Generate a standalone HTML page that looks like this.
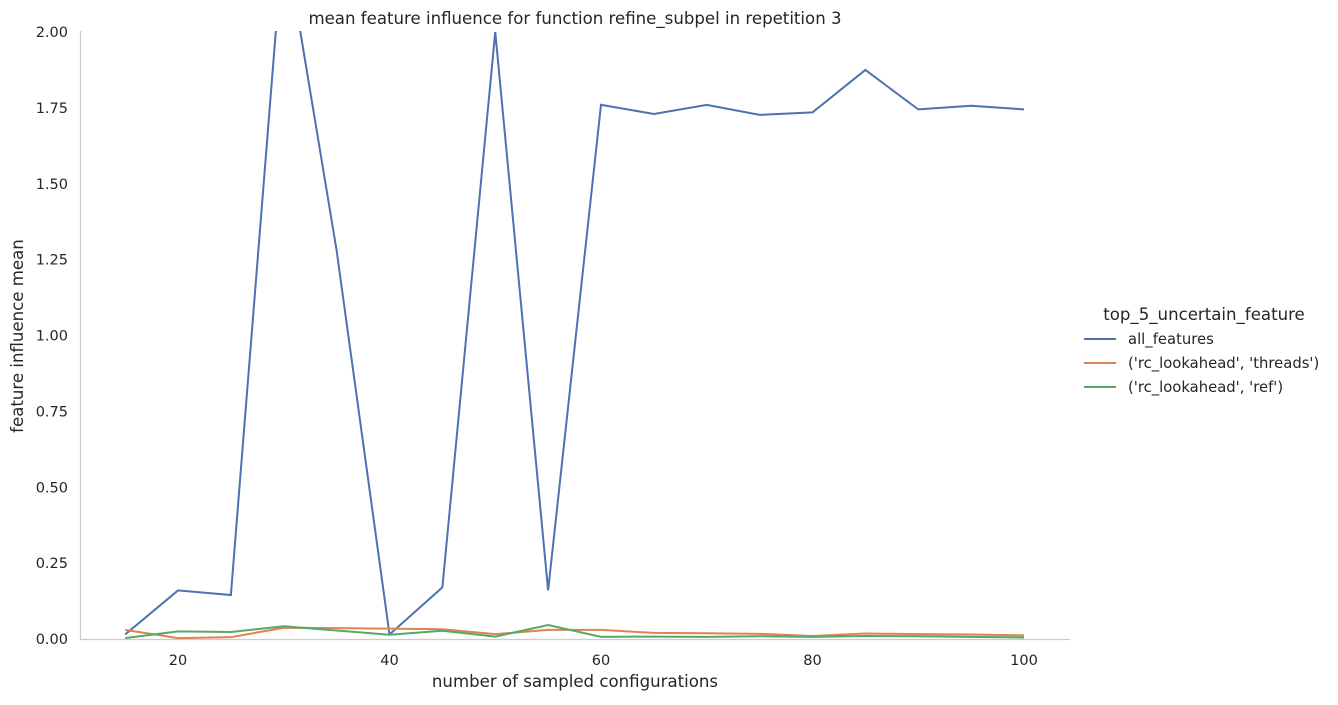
<!DOCTYPE html>
<html><head><meta charset="utf-8"><style>
body{margin:0;background:#fff;font-family:"DejaVu Sans","Liberation Sans",sans-serif;}
svg text{fill:#262626;font-family:"DejaVu Sans","Liberation Sans",sans-serif;}
</style></head><body>
<svg id="chart" width="1338" height="701">
<defs><clipPath id="plotclip"><rect x="80" y="31" width="990" height="610"/></clipPath></defs>
<g id="axes"></g>
<g id="lines" clip-path="url(#plotclip)"></g>
<text x="575" y="24" text-anchor="middle" font-size="16.6">mean feature influence for function refine_subpel in repetition 3</text>
<text x="575" y="687" text-anchor="middle" font-size="16.6">number of sampled configurations</text>
<text transform="translate(23,336) rotate(-90)" text-anchor="middle" font-size="16.6">feature influence mean</text>
<g id="legend">
<text x="1204" y="320" text-anchor="middle" font-size="16.6">top_5_uncertain_feature</text>
</g>
</svg>
<script>
const xs=[15,20,25,30,35,40,45,50,55,60,65,70,75,80,85,90,95,100];
const allFeatures=[0.015,0.16,0.145,2.33,1.28,0.015,0.17,2.0,0.16,1.76,1.73,1.76,1.727,1.735,1.875,1.745,1.757,1.745];
const threads=[0.03,0.003,0.006,0.037,0.036,0.034,0.032,0.016,0.03,0.03,0.02,0.019,0.017,0.01,0.018,0.016,0.015,0.012];
const refs=[0.003,0.025,0.023,0.042,0.028,0.014,0.027,0.008,0.046,0.007,0.008,0.007,0.009,0.007,0.01,0.009,0.007,0.005];
const seriesNames=["all_features","('rc_lookahead', 'threads')","('rc_lookahead', 'ref')"];
const xTicks=[20,40,60,80,100];
const yTicks=[0,0.25,0.5,0.75,1.0,1.25,1.5,1.75,2.0];
const yTickLabels=["0.00","0.25","0.50","0.75","1.00","1.25","1.50","1.75","2.00"];
const colors=["#4c72b0","#dd8452","#55a868"];
const NS="http://www.w3.org/2000/svg";
const X=v=>178+(v-20)*(1024-178)/80;
const Y=v=>639-v*(639-32)/2;
function mk(t,a,p){const e=document.createElementNS(NS,t);for(const k in a)e.setAttribute(k,a[k]);p.appendChild(e);return e;}
const ax=document.getElementById('axes');
const yl=mk('line',{x1:80.5,y1:31,x2:80.5,y2:639,stroke:'#ccc','stroke-width':1.25},ax);


const xl=mk('line',{x1:80,y1:639.5,x2:1070,y2:639.5,stroke:'#ccc','stroke-width':1.25},ax);


xTicks.forEach(t=>{const e=mk('text',{x:X(t),y:665,'text-anchor':'middle','font-size':14.5},ax);e.textContent=t;

});
yTicks.forEach((t,i)=>{const e=mk('text',{x:68,y:Y(t)+5,'text-anchor':'end','font-size':14.5},ax);e.textContent=yTickLabels[i];

});
const lg=document.getElementById('lines');
[allFeatures,threads,refs].forEach((s,i)=>{const p=mk('polyline',{points:s.map((v,j)=>X(xs[j])+','+Y(v)).join(' '),fill:'none',stroke:colors[i],'stroke-width':2},lg);

});
const leg=document.getElementById('legend');
seriesNames.forEach((n,i)=>{const y=339+i*24;
const l=mk('line',{x1:1084,y1:y,x2:1116,y2:y,stroke:colors[i],'stroke-width':2},leg);


const t=mk('text',{x:1128,y:y+5,'font-size':14.8},leg);t.textContent=n;

});
</script>
</body></html>
